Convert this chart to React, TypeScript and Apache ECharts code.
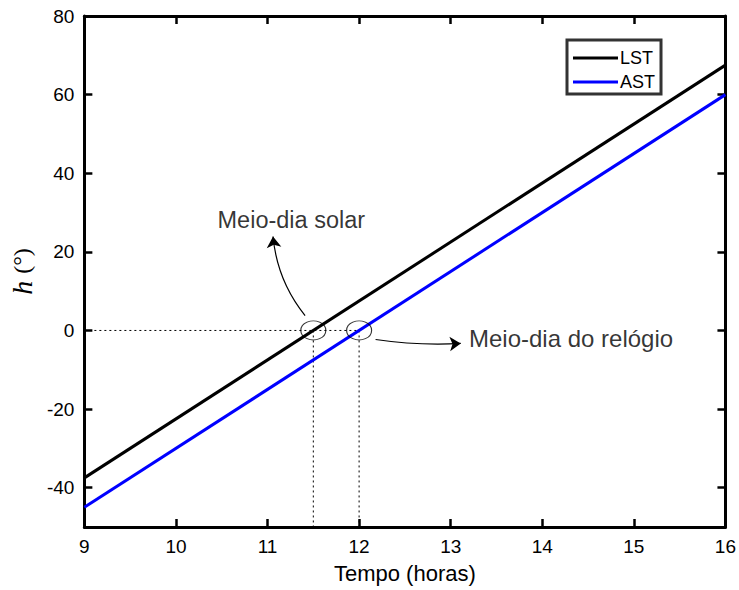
import React, { useEffect, useRef } from "react";
import * as echarts from "echarts";

// ---- data ----
const lstTime = [9, 16];
const lstAngle = [-37.5, 67.5];
const astTime = [9, 16];
const astAngle = [-45, 60];
const xMin = 9;
const xMax = 16;
const yMin = -50;
const yMax = 80;
const yTickValues = [-40, -20, 0, 20, 40, 60, 80];
const noonTimes = [11.5, 12];
const noonAngle = 0;
const solarArrowFrom = [11.41, 3.8];
const solarArrowTo = [11.06, 23.9];
const clockArrowFrom = [12.18, -2.3];
const clockArrowTo = [13.11, -3.3];
const solarLabelText = "Meio-dia solar";
const solarLabelAt = [11.26, 28];
const clockLabelText = "Meio-dia do relógio";
const clockLabelAt = [13.2, -2.1];

const SANS = "'Liberation Sans', Arial, Helvetica, sans-serif";
const SERIF = "'Liberation Serif', 'Times New Roman', serif";

export default function App() {
  const ref = useRef<HTMLDivElement>(null);
  useEffect(() => {
    if (!ref.current) return;
    const chart = echarts.init(ref.current, null, { renderer: "svg" });
    const toPairs = (xs: number[], ys: number[]) => xs.map((x, i) => [x, ys[i]]);
    const dotted = { color: "#000", width: 1, type: [2, 3] as any };
    const frameAxisLine = { show: true, onZero: false, lineStyle: { color: "#000", width: 3 } };
    const tickStyle = { show: true, inside: true, length: 8, lineStyle: { color: "#000", width: 2.5 } };
    chart.setOption({
      animation: false,
      textStyle: { fontFamily: SANS },
      grid: { left: 83, right: 11, top: 16, bottom: 63, containLabel: false },
      legend: {
        data: ["LST", "AST"],
        orient: "vertical",
        left: 567,
        top: 40,
        padding: [9, 6, 3, 6],
        itemGap: 6,
        icon: "rect",
        itemWidth: 45,
        itemHeight: 3,
        borderColor: "#333",
        borderWidth: 3,
        backgroundColor: "#fff",
        textStyle: { fontFamily: SANS, fontSize: 18, color: "#000", padding: [0, 0, 0, -3] },
      },
      xAxis: [
        {
          type: "value",
          min: xMin,
          max: xMax,
          interval: 1,
          position: "bottom",
          name: "Tempo (horas)",
          nameLocation: "middle",
          nameGap: 35,
          nameTextStyle: { fontFamily: SANS, fontSize: 22, color: "#000" },
          axisLine: frameAxisLine,
          axisTick: tickStyle,
          axisLabel: { fontFamily: SANS, fontSize: 19, color: "#000", margin: 10 },
          splitLine: { show: false },
        },
        {
          type: "value",
          min: xMin,
          max: xMax,
          interval: 1,
          position: "top",
          axisLine: frameAxisLine,
          axisTick: tickStyle,
          axisLabel: { show: false },
          splitLine: { show: false },
        },
      ],
      yAxis: [
        {
          type: "value",
          min: yMin,
          max: yMax,
          position: "left",
          name: "{i|h}{s|}{n|(°)}",
          nameLocation: "middle",
          nameRotate: 90,
          nameGap: 40,
          nameTextStyle: {
            rich: {
              i: { fontFamily: SERIF, fontStyle: "italic", fontSize: 28, color: "#000" },
              s: { width: 7 },
              n: { fontFamily: SERIF, fontSize: 24, color: "#000" },
            },
          },
          axisLine: frameAxisLine,
          axisTick: { ...tickStyle, customValues: yTickValues },
          axisLabel: { fontFamily: SANS, fontSize: 19, color: "#000", margin: 10, customValues: yTickValues },
          splitLine: { show: false },
        },
        {
          type: "value",
          min: yMin,
          max: yMax,
          position: "right",
          axisLine: frameAxisLine,
          axisTick: { ...tickStyle, customValues: yTickValues },
          axisLabel: { show: false, customValues: yTickValues },
          splitLine: { show: false },
        },
      ],
      series: [
        {
          type: "line",
          silent: true,
          symbol: "none",
          data: [[xMin, noonAngle], [noonTimes[1], noonAngle]],
          lineStyle: dotted,
          z: 1,
        },
        {
          type: "line",
          silent: true,
          symbol: "none",
          data: [[noonTimes[0], noonAngle], [noonTimes[0], yMin]],
          lineStyle: dotted,
          z: 1,
        },
        {
          type: "line",
          silent: true,
          symbol: "none",
          data: [[noonTimes[1], noonAngle], [noonTimes[1], yMin]],
          lineStyle: dotted,
          z: 1,
        },
        {
          name: "LST",
          type: "line",
          symbol: "none",
          data: toPairs(lstTime, lstAngle),
          lineStyle: { color: "#000", width: 3 },
          itemStyle: { color: "#000" },
          z: 3,
        },
        {
          name: "AST",
          type: "line",
          symbol: "none",
          data: toPairs(astTime, astAngle),
          lineStyle: { color: "#0000ff", width: 3 },
          itemStyle: { color: "#0000ff" },
          z: 3,
        },
        {
          type: "scatter",
          silent: true,
          symbol: "circle",
          symbolSize: [25, 19],
          data: noonTimes.map((t) => [t, noonAngle]),
          itemStyle: { color: "rgba(0,0,0,0)", borderColor: "#000", borderWidth: 1 },
          z: 4,
        },
        {
          type: "lines",
          coordinateSystem: "cartesian2d",
          silent: true,
          symbol: ["none", "arrow"],
          symbolSize: 11,
          data: [
            { coords: [solarArrowFrom, solarArrowTo], lineStyle: { curveness: 0.15 } },
            { coords: [clockArrowFrom, clockArrowTo], lineStyle: { curveness: -0.05 } },
          ],
          lineStyle: { color: "#000", width: 1.2, opacity: 1 },
          z: 4,
        },
        {
          type: "scatter",
          silent: true,
          symbolSize: 0,
          data: [
            {
              value: solarLabelAt,
              label: { show: true, position: "inside", formatter: solarLabelText, color: "#000", fontSize: 23.5, fontFamily: SANS },
            },
            {
              value: clockLabelAt,
              label: { show: true, position: "right", distance: 0, formatter: clockLabelText, color: "#000", fontSize: 24, fontFamily: SANS },
            },
          ],
          z: 5,
        },
      ],
    });
    return () => chart.dispose();
  }, []);
  return (
    <div
      ref={ref}
      style={{ position: "fixed", left: 0, top: 0, width: 739, height: 590, background: "#fff" }}
    />
  );
}
